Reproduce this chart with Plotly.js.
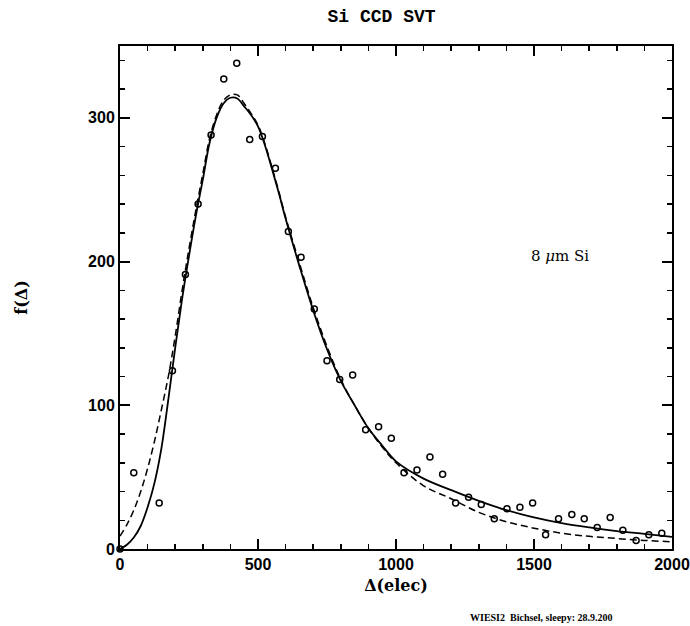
<!DOCTYPE html>
<html>
<head>
<meta charset="utf-8">
<script src="https://cdn.plot.ly/plotly-3.0.1.min.js"></script>
<style>html,body{margin:0;padding:0;background:#fff;}#chart{width:690px;height:626px;}</style>
</head>
<body>
<div id="chart"></div>
<script>
// Measured data points
const dataX = [0, 50, 142, 190, 237, 283, 330, 376, 423, 470, 516, 563, 610, 656, 704, 750, 796, 843, 890, 937, 983, 1029, 1076, 1123, 1169, 1216, 1263, 1309, 1356, 1402, 1449, 1495, 1542, 1589, 1637, 1682, 1729, 1776, 1822, 1870, 1916, 1963];
const dataY = [0, 53, 32, 124, 191, 240, 288, 327, 338, 285, 287, 265, 221, 203, 167, 131, 118, 121, 83, 85, 77, 53, 55, 64, 52, 32, 36, 31, 21, 28, 29, 32, 10, 21, 24, 21, 15, 22, 13, 6, 10, 11];

// Solid curve
const solidX = [0, 25, 50, 75, 100, 125, 150, 175, 200, 225, 250, 275, 300, 325, 350, 375, 400, 425, 450, 475, 500, 525, 550, 575, 600, 650, 700, 750, 800, 850, 900, 950, 1000, 1100, 1200, 1300, 1400, 1500, 1600, 1700, 1800, 1900, 2000];
const solidY = [0, 3, 8, 16, 29, 46, 70, 104, 140, 174, 204, 232, 257, 283, 300, 310, 314, 313.5, 308, 302, 294, 281, 265, 248, 230, 197, 166, 139, 117, 100, 84, 72, 61, 49, 41, 33.5, 27, 22, 18, 15, 12.5, 10.5, 8.5];

// Dashed curve
const dashX = [0, 25, 50, 75, 100, 125, 150, 175, 200, 225, 250, 275, 300, 325, 350, 375, 400, 425, 450, 475, 500, 525, 550, 575, 600, 650, 700, 750, 800, 850, 900, 950, 1000, 1100, 1200, 1300, 1400, 1500, 1600, 1700, 1800, 1900, 2000];
const dashY = [9, 17, 27, 40, 56, 75, 97, 120, 148, 180, 209, 236, 261, 286, 302, 312, 316, 316, 310, 303, 295, 282, 266, 249, 231, 199, 168, 141, 118, 100, 84, 71, 60, 44, 35, 25.5, 19, 14.5, 11, 8.8, 7.3, 6, 5];

const xTicks = [0, 500, 1000, 1500, 2000];
const yTicks = [0, 100, 200, 300];
const xMinor = [100, 200, 300, 400, 600, 700, 800, 900, 1100, 1200, 1300, 1400, 1600, 1700, 1800, 1900];
const yMinor = [20, 40, 60, 80, 120, 140, 160, 180, 220, 240, 260, 280, 320, 340];

const traces = [
  {x: solidX, y: solidY, mode: 'lines', line: {color: '#000', width: 1.8, shape: 'spline', smoothing: 1}, hoverinfo: 'skip'},
  {x: dashX, y: dashY, mode: 'lines', line: {color: '#000', width: 1.5, dash: '7px,4px', shape: 'spline', smoothing: 1}, hoverinfo: 'skip'},
  {x: dataX, y: dataY, mode: 'markers', cliponaxis: false,
   marker: {symbol: 'circle-open', size: 6, color: '#000', line: {width: 1.5, color: '#000'}}},
  {x: [-500], y: [-500], xaxis: 'x2', yaxis: 'y2', mode: 'markers', hoverinfo: 'skip', marker: {size: 1, color: 'rgba(0,0,0,0)'}}
];

const tickFont = {family: 'Liberation Sans, Arial, sans-serif', size: 16, color: '#000', weight: 'bold'};
const tickStyle = {ticks: 'inside', ticklen: 10, tickwidth: 2, tickcolor: '#000'};

const layout = {
  width: 690, height: 626,
  margin: {l: 120, r: 18, t: 46, b: 77},
  paper_bgcolor: '#fff', plot_bgcolor: '#fff',
  showlegend: false,
  title: {text: 'Si CCD SVT', font: {family: 'Liberation Mono, monospace', size: 18, color: '#000', weight: 'bold'}, x: 0.553, xanchor: 'center', y: 0.975, yanchor: 'middle'},
  xaxis: Object.assign({
    range: [0, 2000], tickvals: xTicks, ticktext: xTicks.map(String),
    minor: {tickvals: xMinor, ticks: 'inside', ticklen: 5, tickwidth: 1.5, tickcolor: '#000'},
    showline: true, linewidth: 2, linecolor: '#000', mirror: 'allticks',
    showgrid: false, zeroline: false, tickfont: tickFont,
    title: {text: 'Δ(elec)', font: {family: 'DejaVu Serif, serif', size: 16, color: '#000', weight: 'bold'}, standoff: 8}
  }, tickStyle),
  yaxis: Object.assign({
    range: [0, 350], tickvals: yTicks, ticktext: yTicks.map(String),
    minor: {tickvals: yMinor, ticks: 'inside', ticklen: 5, tickwidth: 1.5, tickcolor: '#000'},
    showline: true, linewidth: 2, linecolor: '#000', mirror: 'allticks',
    showgrid: false, zeroline: false, tickfont: tickFont,
    title: {text: 'f(Δ)', font: {family: 'DejaVu Serif, serif', size: 16, color: '#000', weight: 'bold'}, standoff: 56}
  }, tickStyle),
  xaxis2: {
    overlaying: 'x', side: 'top', range: [0, 2000], tickmode: 'array', tickvals: xMinor, ticktext: xMinor.map(() => ''),
    ticks: 'inside', ticklen: 5, tickwidth: 1.5, tickcolor: '#000',
    showline: false, showgrid: false, zeroline: false
  },
  yaxis2: {
    overlaying: 'y', side: 'right', range: [0, 350], tickmode: 'array', tickvals: yMinor, ticktext: yMinor.map(() => ''),
    ticks: 'inside', ticklen: 5, tickwidth: 1.5, tickcolor: '#000',
    showline: false, showgrid: false, zeroline: false
  },
  annotations: [
    {x: 1482, y: 204, xref: 'x', yref: 'y', xanchor: 'left', yanchor: 'middle', showarrow: false,
     text: '8 <i>μ</i>m Si', font: {family: 'DejaVu Serif, serif', size: 15, color: '#000'}},
    {x: (468 - 120) / 552, y: (549 - 617) / 503, xref: 'paper', yref: 'paper', xanchor: 'left', yanchor: 'middle',
     showarrow: false, text: 'WIESI2  Bichsel, sleepy: 28.9.200',
     font: {family: 'Liberation Serif, serif', size: 10, color: '#000', weight: 'bold'}}
  ]
};

Plotly.newPlot('chart', traces, layout, {displayModeBar: false, staticPlot: true});
</script>
</body>
</html>
